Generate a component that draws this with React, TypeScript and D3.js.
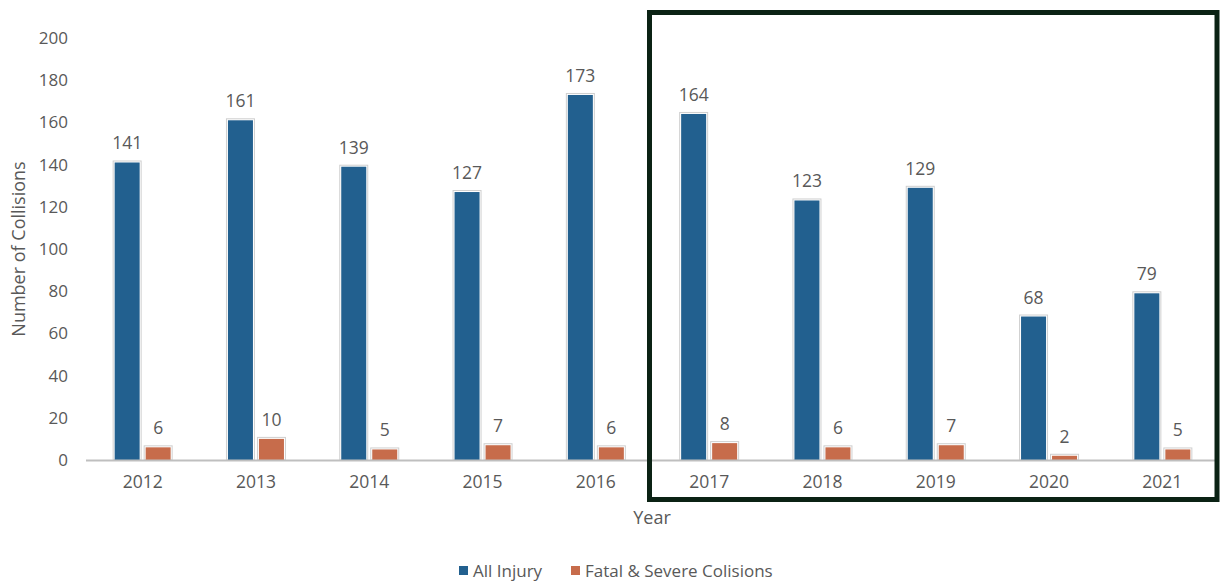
import React from "react";
import * as d3 from "d3";

const years = ["2012","2013","2014","2015","2016","2017","2018","2019","2020","2021"];
const allInjury = [141,161,139,127,173,164,123,129,68,79];
const fatalSevere = [6,10,5,7,6,8,6,7,2,5];
const yTicks = [0,20,40,60,80,100,120,140,160,180,200];
const seriesNames = ["All Injury","Fatal & Severe Colisions"];

const W = 1220, H = 581;
const BLUE = "#22608f";
const ORANGE = "#c76c4b";
const TEXT = "#595959";
const FONT = "'Open Sans', 'Liberation Sans', sans-serif";

export default function App() {
  const x = d3.scaleBand().domain(years).range([86, 1219]).paddingInner(0).paddingOuter(0);
  const y = d3.scaleLinear().domain([0, 200]).range([460, 38]);
  const barW = 25;
  const gap = 6;
  const series = [allInjury, fatalSevere];
  const colors = [BLUE, ORANGE];

  return (
    <svg width={W} height={H} style={{ position: "absolute", left: 0, top: 0, background: "#fff" }} fontFamily={FONT}>
      <rect x={0} y={0} width={W} height={H} fill="#fff" />
      {yTicks.map((t) => (
        <text key={t} x={68} y={y(t)} dy="0.35em" textAnchor="end" fontSize={17} fill={TEXT}>{t}</text>
      ))}
      {years.map((yr, i) => {
        const cx = (x(yr) as number) + x.bandwidth() / 2;
        return (
          <g key={yr}>
            {series.map((s, k) => {
              const v = s[i];
              const bx = k === 0 ? cx - gap / 2 - barW : cx + gap / 2;
              const top = y(v);
              const h = y(0) - top;
              return (
                <g key={k}>
                  <rect x={bx - 1.5} y={top - 1.5} width={barW + 3} height={h + 1.5} fill="#fff" stroke="#cfcfcf" strokeWidth={1} />
                  <rect x={bx} y={top} width={barW} height={h} fill={colors[k]} />
                  <text x={bx + barW / 2} y={top - 13} textAnchor="middle" fontSize={17.5} fill={TEXT}>{v}</text>
                </g>
              );
            })}
            <text x={cx} y={488} textAnchor="middle" fontSize={17.5} fill={TEXT}>{yr}</text>
          </g>
        );
      })}
      <line x1={86} x2={1219} y1={460.5} y2={460.5} stroke="#bfbfbf" strokeWidth={2} />
      <text transform={`translate(25,249) rotate(-90)`} textAnchor="middle" fontSize={18} fill={TEXT}>Number of Collisions</text>
      <text x={652} y={524} textAnchor="middle" fontSize={18} fill={TEXT}>Year</text>
      <g>
        <rect x={459} y={566} width={9} height={9} fill={BLUE} />
        <text x={473} y={577} fontSize={17} fill={TEXT}>{seriesNames[0]}</text>
        <rect x={571} y={566} width={9} height={9} fill={ORANGE} />
        <text x={585} y={577} fontSize={17} fill={TEXT}>{seriesNames[1]}</text>
      </g>
      <rect x={649.5} y={12.5} width={567.5} height={487} fill="none" stroke="#0b2214" strokeWidth={5} />
    </svg>
  );
}
